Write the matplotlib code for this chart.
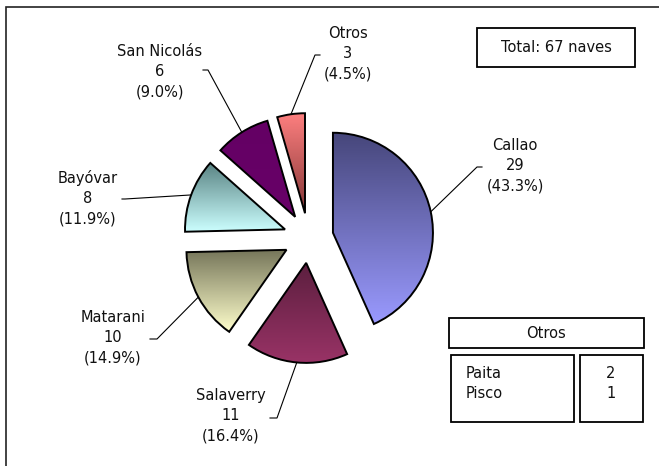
import numpy as np
import matplotlib
matplotlib.use("Agg")
import matplotlib.pyplot as plt
from matplotlib.patches import Rectangle
from matplotlib.colors import LinearSegmentedColormap

# canvas in pixels
W, H = 659, 466

ports = ["Callao", "Salaverry", "Matarani", "Bayóvar", "San Nicolás", "Otros"]
naves = [29, 11, 10, 8, 6, 3]
top_colors = ["#46467a", "#5c1f3f", "#76765a", "#5a8484", "#640064", "#ff8080"]
bottom_colors = ["#9a9aff", "#993366", "#ffffcc", "#ccffff", "#680068", "#843636"]

otros_ports = ["Paita", "Pisco"]
otros_naves = [2, 1]


def fill_gradient(ax, wedge, c_top, c_bottom):
    ext = wedge.get_path().get_extents()
    cmap = LinearSegmentedColormap.from_list("g", [c_bottom, c_top])
    grad = np.linspace(0, 1, 256).reshape(-1, 1)
    im = ax.imshow(grad, cmap=cmap, origin="lower", aspect="auto",
                   extent=(ext.x0, ext.x1, ext.y0, ext.y1), zorder=1)
    im.set_clip_path(wedge)


def main():
    fig = plt.figure(figsize=(W / 100, H / 100), dpi=100)
    ax = fig.add_axes([0, 0, 1, 1])

    total = sum(naves)
    cx, cy = 308.5, H - 238
    radius = 100

    wedges, _ = ax.pie(naves, startangle=90, counterclock=False, radius=radius,
                       center=(cx, cy), explode=[25] * len(naves),
                       wedgeprops=dict(facecolor="none", edgecolor="black",
                                       linewidth=1.4, zorder=2))
    for w, ct, cb in zip(wedges, top_colors, bottom_colors):
        fill_gradient(ax, w, ct, cb)

    # label centre (image px) and start of leader line (x_start, x_elbow, y)
    label_pos = {
        "Callao": (515, 166, 482, 477, 167),
        "Salaverry": (231, 416, 270, 277, 418),
        "Matarani": (113, 338, 150, 157, 339),
        "Bayóvar": (88, 198, 122, 125, 199),
        "San Nicolás": (160, 72, 203, 208, 70),
        "Otros": (348, 54, 320, 315, 55),
    }

    for w, port, n in zip(wedges, ports, naves):
        tx, ty, xs, xe, ly = label_pos[port]
        ax.text(tx, H - ty, f"{port}\n{n}\n({100 * n / total:.1f}%)",
                ha="center", va="center", fontsize=10.5, color="#111111",
                linespacing=1.42)
        mid = np.deg2rad((w.theta1 + w.theta2) / 2)
        px = w.center[0] + w.r * np.cos(mid)
        py = w.center[1] + w.r * np.sin(mid)
        ax.plot([xs, xe, px], [H - ly, H - ly, py], color="black", lw=0.8, zorder=3)

    # total box
    ax.add_patch(Rectangle((477, H - 67), 158, 39, facecolor="white",
                           edgecolor="black", lw=1.3))
    ax.text(556, H - 47, f"Total: {total} naves", ha="center", va="center",
            fontsize=10.5, color="#111111")

    # otros breakdown table
    ax.add_patch(Rectangle((449, H - 348), 195, 30, facecolor="white",
                           edgecolor="black", lw=1.3))
    ax.text(546, H - 333, "Otros", ha="center", va="center", fontsize=10.5,
            color="#111111")
    ax.add_patch(Rectangle((451, H - 422), 123, 67, facecolor="white",
                           edgecolor="black", lw=1.3))
    ax.add_patch(Rectangle((580, H - 422), 63, 67, facecolor="white",
                           edgecolor="black", lw=1.3))
    for i, (p, n) in enumerate(zip(otros_ports, otros_naves)):
        ax.text(466, H - 373 - 20 * i, p, ha="left", va="center",
                fontsize=10.5, color="#111111")
        ax.text(611, H - 373 - 20 * i, str(n), ha="center", va="center",
                fontsize=10.5, color="#111111")

    # outer frame (only left and top visible)
    ax.plot([5.5, 5.5, W], [0, H - 6.5, H - 6.5], color="#222222", lw=1.2,
            solid_joinstyle="miter")

    ax.set_xlim(0, W)
    ax.set_ylim(0, H)
    ax.set_aspect("auto")
    ax.axis("off")
    fig.savefig("out.png", dpi=100)


if __name__ == "__main__":
    main()
